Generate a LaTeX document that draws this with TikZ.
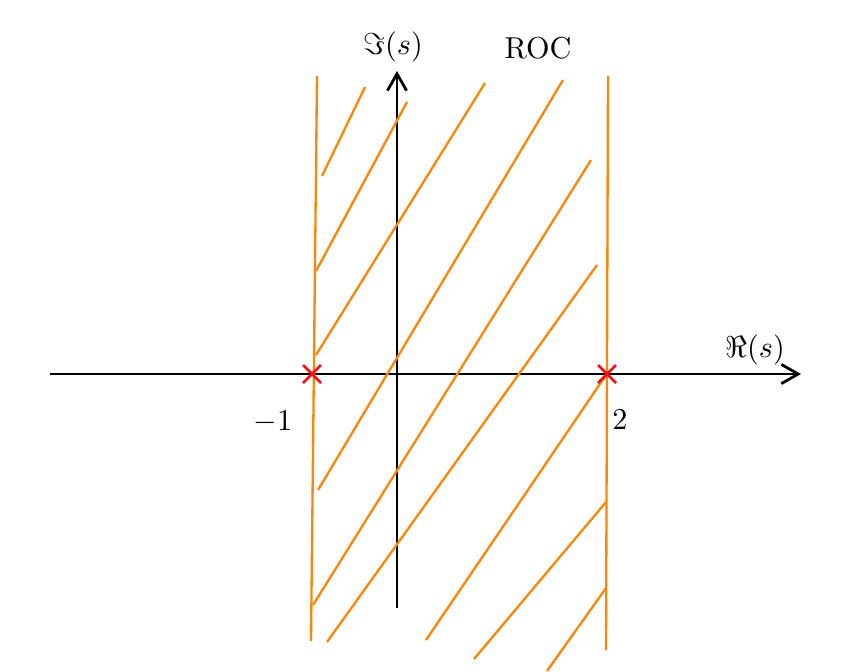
\documentclass[tikz,border=0pt]{standalone}
\usetikzlibrary{arrows.meta,calc}
\definecolor{roc}{RGB}{250,135,10}
\definecolor{polered}{RGB}{235,20,30}
\begin{document}
\begin{tikzpicture}[x=0.344pt,y=-0.344pt,
  axis/.style={line width=0.95pt,black,-{Straight Barb[length=5.8pt,width=6.6pt,line width=0.95pt]}},
  hatch/.style={line width=0.8pt,roc},
  pole/.style={line width=0.95pt,polered},
  lbl/.style={inner sep=0pt,scale=1.04}]
\useasboundingbox (0,0) rectangle (853,671);
% axes
\coordinate (xl) at (50,374);
\coordinate (xr) at (801,374);
\coordinate (yb) at (397,608);
\coordinate (yt) at (397,71);
\draw[axis] (xl) -- (xr);
\draw[axis] (yb) -- (yt);
% ROC boundaries
\coordinate (lt) at (317,76);
\coordinate (lb) at (311,641);
\coordinate (rt) at (608,76);
\coordinate (rb) at (606,650);
\draw[hatch] (lt) -- (lb);
\draw[hatch] (rt) -- (rb);
% hatching
\draw[hatch] (365,87) -- (322,176);
\draw[hatch] (407,102) -- (316,271);
\draw[hatch] (485,83) -- (316,355);
\draw[hatch] (563,80) -- (318,490);
\draw[hatch] (591,160) -- (313,605);
\draw[hatch] (597,265) -- (327,642);
\draw[hatch] (606,375) -- (426,640);
\draw[hatch] (606,502) -- (474,659);
\draw[hatch] (606,588) -- (547,671);
% poles
\coordinate (p1) at (312,374);
\coordinate (p2) at (607,374);
\draw[pole] ($(p1)+(-9,-9)$) -- ($(p1)+(9,9)$);
\draw[pole] ($(p1)+(-9,9)$) -- ($(p1)+(9,-9)$);
\draw[pole] ($(p2)+(-9,-9)$) -- ($(p2)+(9,9)$);
\draw[pole] ($(p2)+(-9,9)$) -- ($(p2)+(9,-9)$);
% labels
\node[lbl] (im) at (393,47) {$\Im(s)$};
\node[lbl] (roclbl) at (538,48) {ROC};
\node[lbl] (re) at (755,350) {$\Re(s)$};
\node[lbl] (m1) at (273,422) {$-1$};
\node[lbl] (two) at (620,420) {$2$};
\end{tikzpicture}
\end{document}
